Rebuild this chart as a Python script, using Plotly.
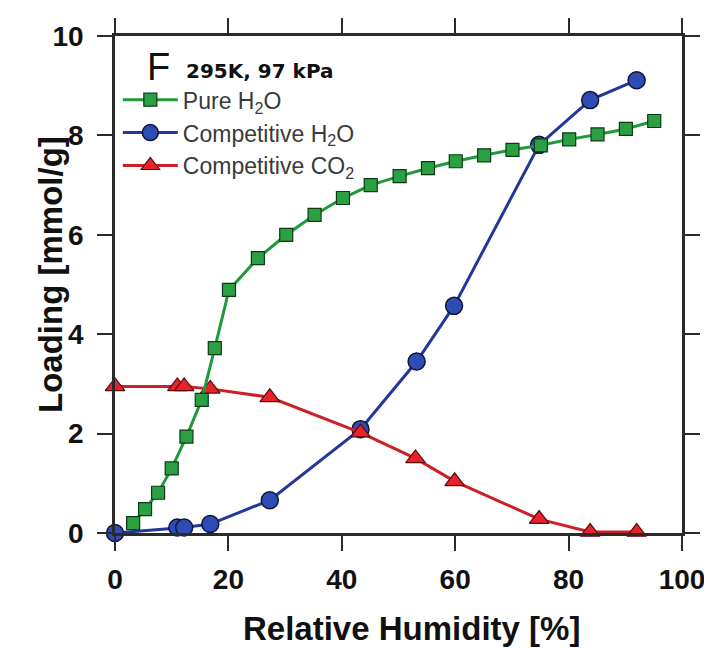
import plotly.graph_objects as go

# Data
pure_x = [3.2, 5.3, 7.6, 10.0, 12.6, 15.3, 17.6, 20.1, 25.2, 30.2, 35.2, 40.2, 45.1,
          50.2, 55.2, 60.1, 65.1, 70.1, 75.1, 80.1, 85.1, 90.1, 95.1]
pure_y = [0.2, 0.48, 0.81, 1.30, 1.94, 2.68, 3.72, 4.89, 5.53, 6.0, 6.4, 6.74, 7.0,
          7.18, 7.34, 7.48, 7.6, 7.71, 7.8, 7.92, 8.02, 8.13, 8.29]

comp_h2o_x = [0, 11.0, 12.2, 16.8, 27.3, 43.3, 53.2, 59.8, 74.8, 83.8, 92.0]
comp_h2o_y = [0, 0.11, 0.11, 0.18, 0.66, 2.09, 3.45, 4.57, 7.81, 8.71, 9.11]

comp_co2_x = [0, 11.0, 12.2, 16.8, 27.3, 43.3, 53.0, 59.9, 74.8, 83.8, 92.0]
comp_co2_y = [2.95, 2.95, 2.95, 2.9, 2.73, 2.02, 1.5, 1.04, 0.28, 0.02, 0.02]

x_ticks = [0, 20, 40, 60, 80, 100]
y_ticks = [0, 2, 4, 6, 8, 10]

x_title = "Relative Humidity [%]"
y_title = "Loading [mmol/g]"
panel_label = "F"
condition_label = "295K, 97 kPa"

FONT = "Liberation Sans, Arial, Helvetica, sans-serif"

fig = go.Figure()

fig.add_trace(go.Scatter(
    x=comp_h2o_x, y=comp_h2o_y, mode="lines+markers", name="Competitive H<sub>2</sub>O",
    legendgroup="b", legendrank=2, cliponaxis=False,
    line=dict(color="#23379a", width=3),
    marker=dict(symbol="circle", size=17, color="#2d4cb4", line=dict(color="#10143a", width=1.5)),
))
fig.add_trace(go.Scatter(
    x=comp_co2_x, y=comp_co2_y, mode="lines+markers", name="Competitive CO<sub>2</sub>",
    legendgroup="c", legendrank=3, cliponaxis=False,
    line=dict(color="#cc2027", width=3),
    marker=dict(symbol="triangle-up", size=17, color="#e8212a", line=dict(color="#5a0c0c", width=1.2)),
))
fig.add_trace(go.Scatter(
    x=pure_x, y=pure_y, mode="lines+markers", name="Pure H<sub>2</sub>O",
    legendgroup="a", legendrank=1, cliponaxis=False,
    line=dict(color="#1f9a3a", width=3),
    marker=dict(symbol="square", size=13, color="#2aa043", line=dict(color="#0c3a14", width=1.2)),
))

axis_common = dict(
    showline=True, linecolor="#2a2a2a", linewidth=2.5, mirror="ticks",
    ticks="outside", ticklen=15, tickwidth=2, tickcolor="#2a2a2a",
    showgrid=False, zeroline=False, ticklabeloverflow="allow",
    tickfont=dict(family=FONT, size=28, color="#111111", weight="bold"),
)

fig.update_xaxes(
    range=[0, 100], tickvals=x_ticks, ticktext=[str(v) for v in x_ticks],
    ticklabelstandoff=5,
    **axis_common,
)
fig.update_yaxes(
    range=[0, 10], tickvals=y_ticks, ticktext=[str(v) for v in y_ticks],
    ticklabelstandoff=8,
    **axis_common,
)


def px_to_paper(px, py):
    return (px - 115) / 567.0, (533 - py) / 497.0


fx, fy = px_to_paper(145, 67)
fig.add_annotation(
    x=fx, y=fy, xref="paper", yref="paper", text=panel_label, showarrow=False,
    font=dict(family="Liberation Sans Narrow, Arial Narrow, " + FONT, size=38, color="#111111"),
    xanchor="left", yanchor="middle",
)
tx, ty = px_to_paper(184, 71)
fig.add_annotation(
    x=tx, y=ty, xref="paper", yref="paper", text="<b>" + condition_label + "</b>", showarrow=False,
    font=dict(family="DejaVu Sans, " + FONT, size=20, color="#111111"),
    xanchor="left", yanchor="middle",
)
xtx, xty = px_to_paper(411, 628)
fig.add_annotation(
    x=xtx, y=xty, xref="paper", yref="paper", text="<b>" + x_title + "</b>", showarrow=False,
    font=dict(family=FONT, size=33, color="#111111"),
    xanchor="center", yanchor="middle",
)
ytx, yty = px_to_paper(50, 275)
fig.add_annotation(
    x=ytx, y=yty, xref="paper", yref="paper", text="<b>" + y_title + "</b>", showarrow=False,
    font=dict(family=FONT, size=33, color="#111111"), textangle=-90,
    xanchor="center", yanchor="middle",
)

fig.update_layout(
    width=704, height=649,
    margin=dict(l=115, r=22, t=36, b=116, autoexpand=False),
    paper_bgcolor="white", plot_bgcolor="white",
    showlegend=True,
    legend=dict(
        x=0.005, y=0.915, xanchor="left", yanchor="top",
        bgcolor="rgba(0,0,0,0)", borderwidth=0,
        font=dict(family=FONT, size=23, color="#3a3a3a"),
        tracegroupgap=0, itemwidth=55,
    ),
)

fig.write_html("out.html")
